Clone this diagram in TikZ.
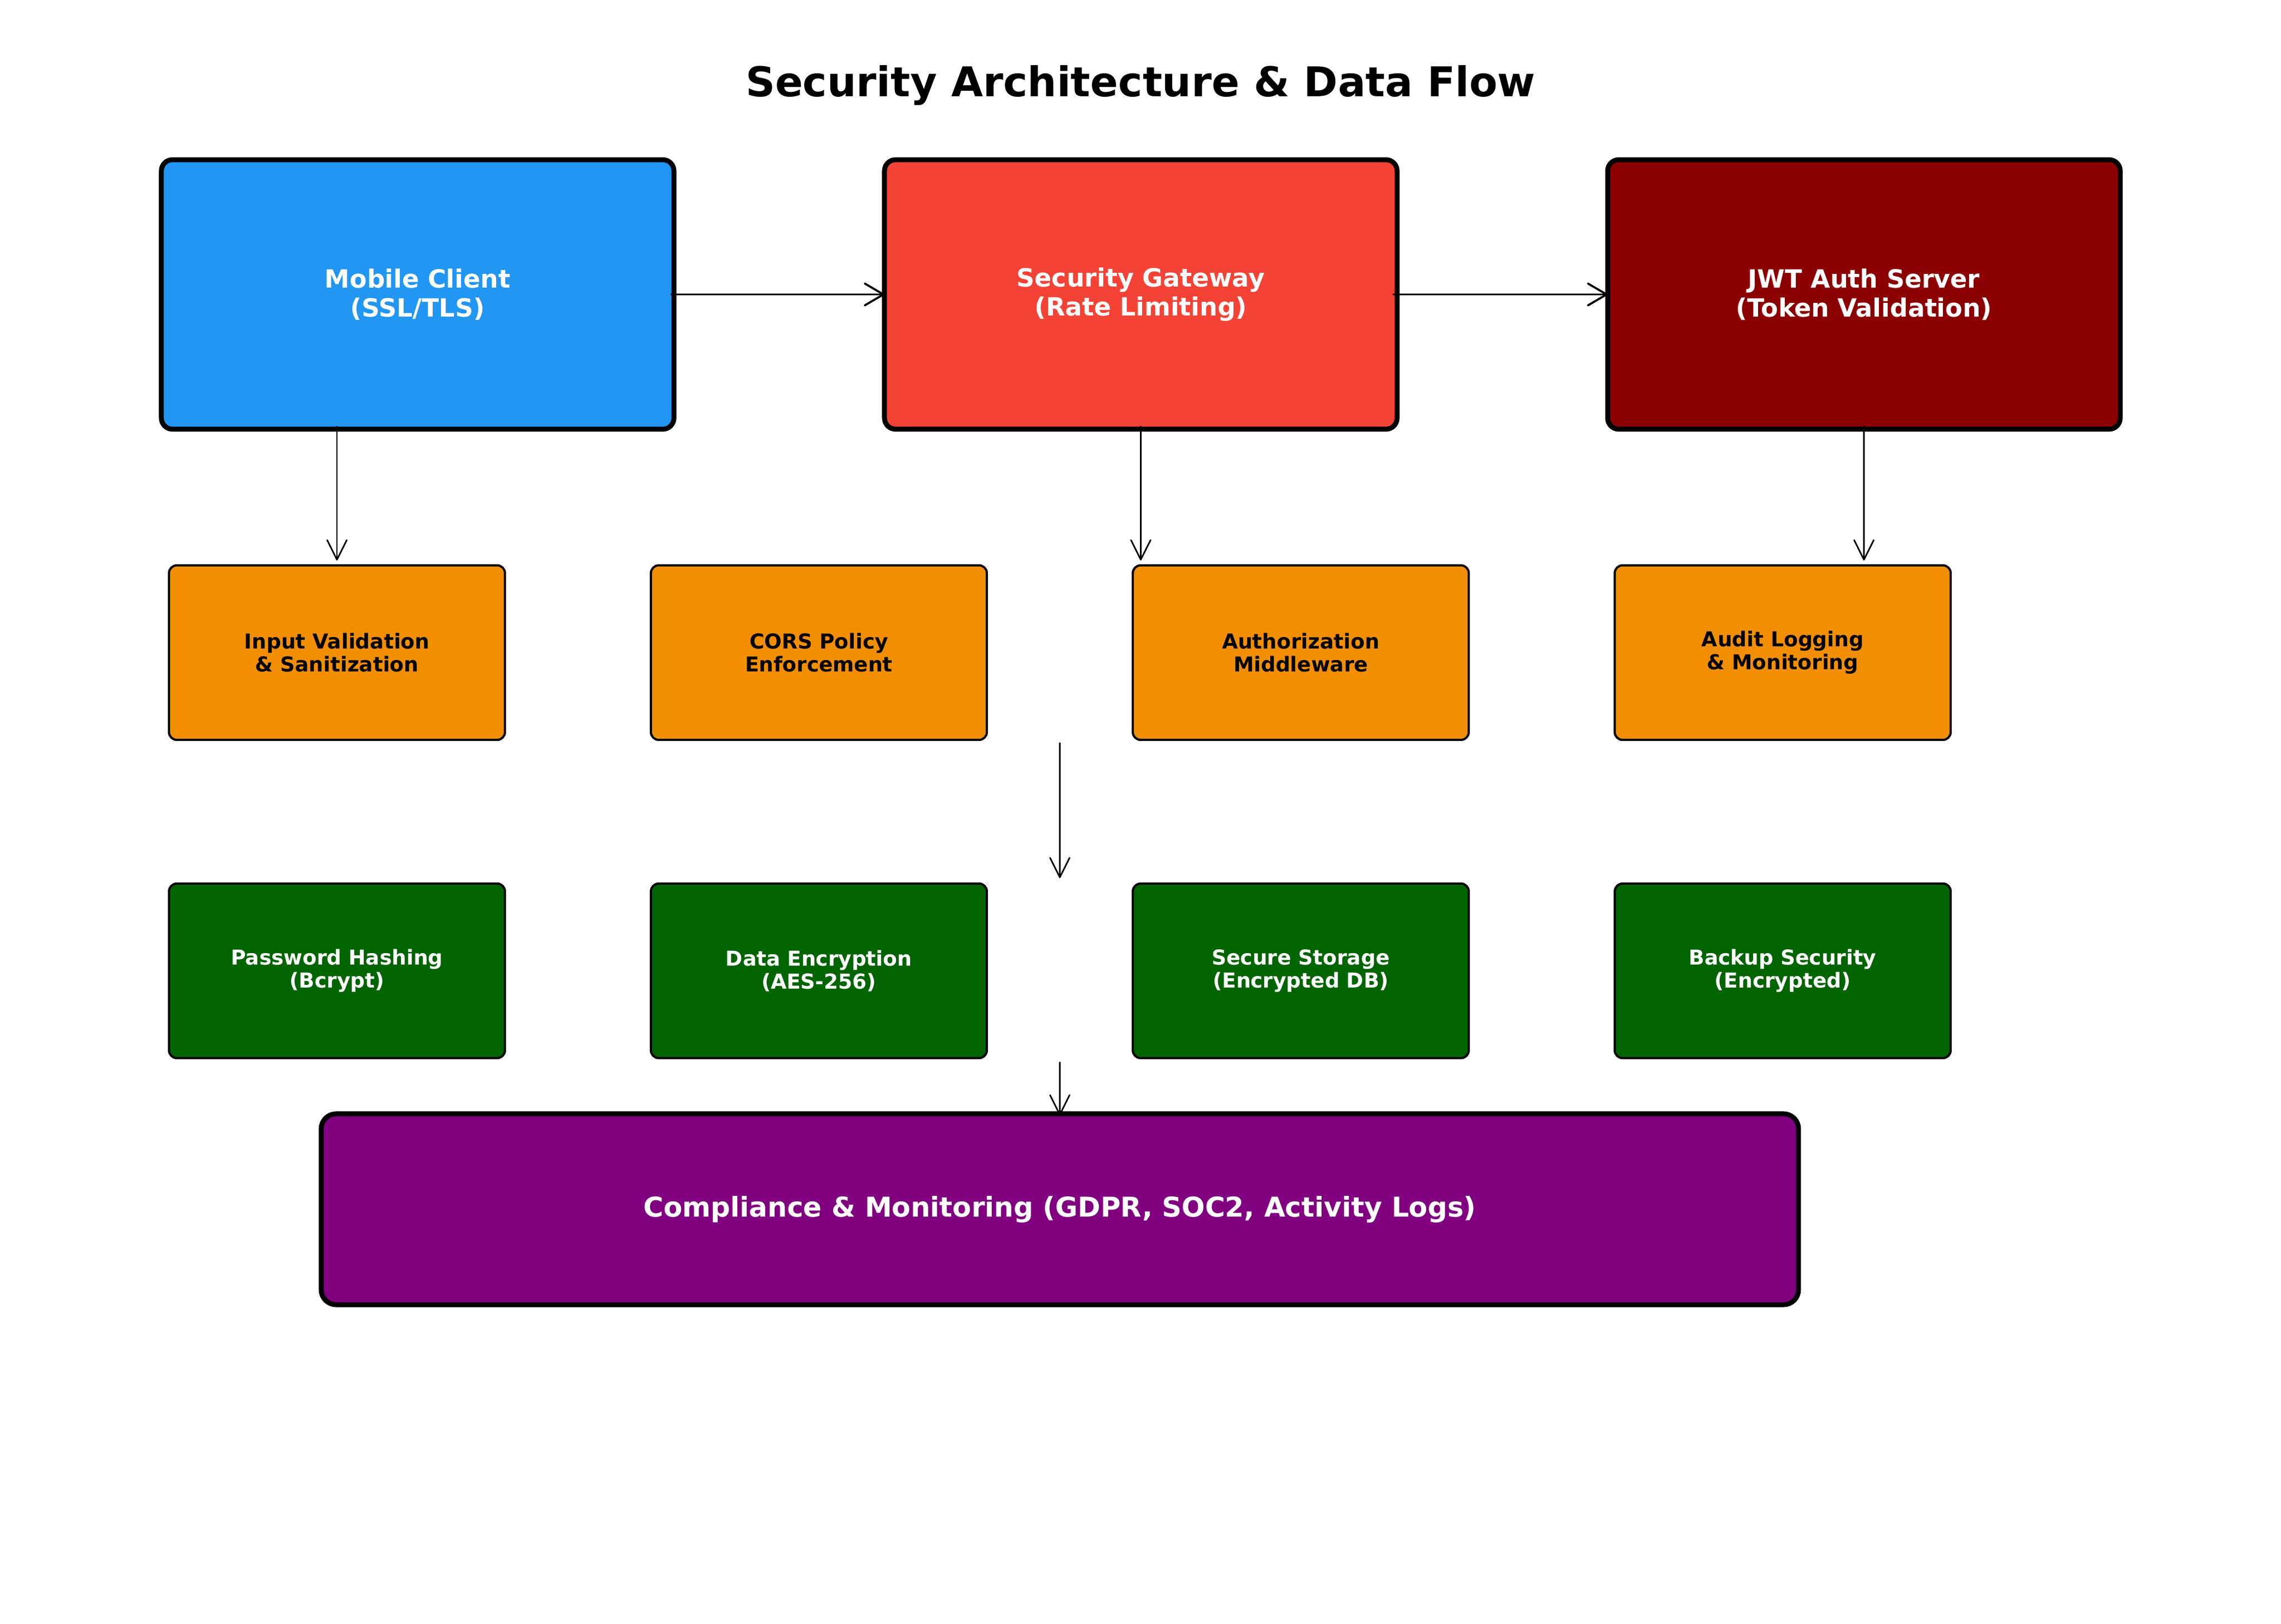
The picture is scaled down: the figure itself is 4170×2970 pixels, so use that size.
\documentclass[tikz,border=0pt]{standalone}
\usepackage{fontspec}
\setmainfont{DejaVu Sans}
\usetikzlibrary{arrows.meta,calc}
\definecolor{cblue}{HTML}{2196F3}
\definecolor{cred}{HTML}{F44336}
\definecolor{cdred}{HTML}{8B0000}
\definecolor{corange}{HTML}{F18F01}
\definecolor{cgreen}{HTML}{006400}
\definecolor{cpurple}{HTML}{800080}
\begin{document}
\begin{tikzpicture}[x=0.24pt,y=-0.24pt,
  bigbox/.style={draw=black, line width=2.16pt, rounded corners=4.9pt,
    minimum width=224.9pt, minimum height=118.3pt, inner sep=0pt, outer sep=0pt,
    text=white, font=\fontsize{11}{12.7}\selectfont\bfseries, align=center},
  smallbox/.style={draw=black, line width=0.96pt, rounded corners=3.4pt,
    minimum width=147.4pt, minimum height=76.6pt, inner sep=0pt, outer sep=0pt,
    font=\fontsize{9}{10.2}\selectfont\bfseries, align=center},
  orbox/.style={smallbox, fill=corange, text=black},
  grbox/.style={smallbox, fill=cgreen, text=white},
  harr/.style={-{Straight Barb[length=8.2pt,width=9.6pt,round]}, line width=0.9pt},
  varr/.style={-{Straight Barb[length=8.6pt,width=8.6pt,round]}, line width=0.67pt},
]
\useasboundingbox[fill=white] (0,0) rectangle (4170,2970);

\node[font=\fontsize{18}{22}\selectfont\bfseries, anchor=base] (title) at (2085,177) {Security Architecture \& Data Flow};

\node[bigbox, fill=cblue] (mob) at (763.5,538.5) {Mobile Client\\(SSL/TLS)};
\node[bigbox, fill=cred] (gw) at (2085.5,538.5) {Security Gateway\\(Rate Limiting)};
\node[bigbox, fill=cdred] (jwt) at (3407.5,538.5) {JWT Auth Server\\(Token Validation)};

\node[orbox] (iv) at (616,1193.5) {Input Validation\\\& Sanitization};
\node[orbox] (cors) at (1497,1193.5) {CORS Policy\\Enforcement};
\node[orbox] (az) at (2378,1193.5) {Authorization\\Middleware};
\node[orbox] (al) at (3259,1193.5) {Audit Logging\\\& Monitoring};

\node[grbox] (ph) at (616,1775.5) {Password Hashing\\(Bcrypt)};
\node[grbox] (de) at (1497,1775.5) {Data Encryption\\(AES-256)};
\node[grbox] (ss) at (2378,1775.5) {Secure Storage\\(Encrypted DB)};
\node[grbox] (bs) at (3259,1775.5) {Backup Security\\(Encrypted)};

\node[draw=black, line width=2.16pt, rounded corners=6.6pt, fill=cpurple,
  minimum width=648.2pt, minimum height=83.8pt, inner sep=0pt, outer sep=0pt,
  text=white, font=\fontsize{12}{15}\selectfont\bfseries] (cmp) at (1937.5,2211.5)
  {Compliance \& Monitoring (GDPR, SOC2, Activity Logs)};

\draw[harr] ($(mob.east)+(-6,0)$) -- (gw.west);
\draw[harr] ($(gw.east)+(-8,0)$) -- (jwt.west);

\draw[varr] ($(mob.south -| iv.north)+(0,-6)$) -- ($(iv.north)+(0,-9)$);
\draw[varr] ($(gw.south)+(0,-6)$) -- ($(gw.south |- az.north)+(0,-9)$);
\draw[varr] ($(jwt.south)+(0,-6)$) -- ($(jwt.south |- al.north)+(0,-9)$);
\draw[varr] ($(cmp.north |- cors.south)+(0,5)$) -- ($(cmp.north |- de.north)+(0,-10)$);
\draw[varr] ($(cmp.north |- de.south)+(0,7)$) -- ($(cmp.north)+(0,3)$);
\end{tikzpicture}
\end{document}
